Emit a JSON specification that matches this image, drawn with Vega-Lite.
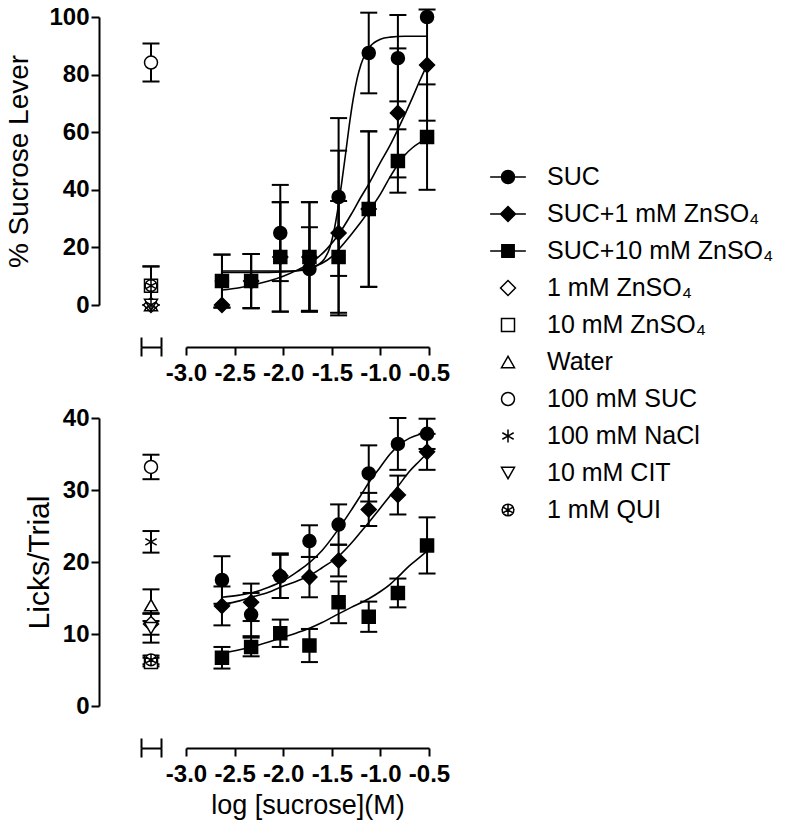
{
  "$schema": "https://vega.github.io/schema/vega-lite/v6.json",
  "background": "white",
  "padding": 5,
  "bounds": "flush",
  "columns": 2,
  "spacing": {"row": 113, "column": 25},
  "resolve": {"scale": {"shape": "independent", "fill": "independent"}},
  "config": {
    "view": {"stroke": null},
    "font": "Liberation Sans",
    "axis": {
      "domainColor": "black", "tickColor": "black", "labelColor": "black", "titleColor": "black",
      "domainWidth": 2, "tickWidth": 2, "tickSize": 8, "grid": false,
      "labelFont": "Liberation Sans", "labelFontWeight": "bold", "labelFontSize": 24,
      "titleFont": "Liberation Sans", "titleFontWeight": "normal"
    },
    "legend": {
      "labelFont": "Liberation Sans", "labelFontSize": 25, "labelColor": "black", "labelLimit": 400,
      "rowPadding": 11, "symbolSize": 169, "symbolStrokeWidth": 1.5, "symbolStrokeColor": "black",
      "symbolOpacity": 1, "padding": 0, "labelOffset": 26.5
    }
  },
  "datasets": {
    "top_pts": [
      {"series": "SUC", "logc": -2.63, "mean": 8.3, "sem": 9.2},
      {"series": "SUC", "logc": -2.33, "mean": 8.3, "sem": 9.4},
      {"series": "SUC", "logc": -2.03, "mean": 25, "sem": 16.7},
      {"series": "SUC", "logc": -1.73, "mean": 12.5, "sem": 14.5},
      {"series": "SUC", "logc": -1.43, "mean": 37.5, "sem": 27.4},
      {"series": "SUC", "logc": -1.12, "mean": 87.5, "sem": 14},
      {"series": "SUC", "logc": -0.82, "mean": 85.7, "sem": 15},
      {"series": "SUC", "logc": -0.52, "mean": 100, "sem": 0},
      {"series": "SUC+1 mM ZnSO₄", "logc": -2.63, "mean": 0, "sem": 0},
      {"series": "SUC+1 mM ZnSO₄", "logc": -2.33, "mean": 8.3, "sem": 9.4},
      {"series": "SUC+1 mM ZnSO₄", "logc": -2.03, "mean": 16.7, "sem": 19},
      {"series": "SUC+1 mM ZnSO₄", "logc": -1.73, "mean": 16.7, "sem": 19},
      {"series": "SUC+1 mM ZnSO₄", "logc": -1.43, "mean": 25, "sem": 28.6},
      {"series": "SUC+1 mM ZnSO₄", "logc": -1.12, "mean": 33.3, "sem": 27},
      {"series": "SUC+1 mM ZnSO₄", "logc": -0.82, "mean": 66.7, "sem": 22.4},
      {"series": "SUC+1 mM ZnSO₄", "logc": -0.52, "mean": 83.3, "sem": 19.3},
      {"series": "SUC+10 mM ZnSO₄", "logc": -2.63, "mean": 8.3, "sem": 9.2},
      {"series": "SUC+10 mM ZnSO₄", "logc": -2.33, "mean": 8.3, "sem": 9.4},
      {"series": "SUC+10 mM ZnSO₄", "logc": -2.03, "mean": 16.7, "sem": 19},
      {"series": "SUC+10 mM ZnSO₄", "logc": -1.73, "mean": 16.7, "sem": 19},
      {"series": "SUC+10 mM ZnSO₄", "logc": -1.43, "mean": 16.7, "sem": 19.4},
      {"series": "SUC+10 mM ZnSO₄", "logc": -1.12, "mean": 33.3, "sem": 27},
      {"series": "SUC+10 mM ZnSO₄", "logc": -0.82, "mean": 50, "sem": 11},
      {"series": "SUC+10 mM ZnSO₄", "logc": -0.52, "mean": 58.3, "sem": 18.3}
    ],
    "top_ctrl": [
      {"series": "100 mM SUC", "group": "control", "mean": 84.2, "sem": 6.6},
      {"series": "10 mM ZnSO₄", "group": "control", "mean": 6.7, "sem": 6.7},
      {"series": "1 mM QUI", "group": "control", "mean": 6.7, "sem": 6.7},
      {"series": "Water", "group": "control", "mean": 0, "sem": 0},
      {"series": "1 mM ZnSO₄", "group": "control", "mean": 0, "sem": 0},
      {"series": "10 mM CIT", "group": "control", "mean": 0, "sem": 0},
      {"series": "100 mM NaCl", "group": "control", "mean": 0, "sem": 0}
    ],
    "top_fit": [
      {"series": "SUC", "logc": -2.63, "y": 11.8},
      {"series": "SUC", "logc": -2.3, "y": 11.8},
      {"series": "SUC", "logc": -2.0, "y": 11.8},
      {"series": "SUC", "logc": -1.85, "y": 11.9},
      {"series": "SUC", "logc": -1.75, "y": 12.4},
      {"series": "SUC", "logc": -1.65, "y": 13.8},
      {"series": "SUC", "logc": -1.58, "y": 15.8},
      {"series": "SUC", "logc": -1.52, "y": 20},
      {"series": "SUC", "logc": -1.47, "y": 27},
      {"series": "SUC", "logc": -1.43, "y": 35},
      {"series": "SUC", "logc": -1.4, "y": 42},
      {"series": "SUC", "logc": -1.36, "y": 52},
      {"series": "SUC", "logc": -1.32, "y": 62.5},
      {"series": "SUC", "logc": -1.28, "y": 71.5},
      {"series": "SUC", "logc": -1.24, "y": 78.5},
      {"series": "SUC", "logc": -1.2, "y": 83.5},
      {"series": "SUC", "logc": -1.15, "y": 87.5},
      {"series": "SUC", "logc": -1.1, "y": 90},
      {"series": "SUC", "logc": -1.0, "y": 92.3},
      {"series": "SUC", "logc": -0.9, "y": 93},
      {"series": "SUC", "logc": -0.75, "y": 93.3},
      {"series": "SUC", "logc": -0.52, "y": 93.3},
      {"series": "SUC+1 mM ZnSO₄", "logc": -2.63, "y": 5.2},
      {"series": "SUC+1 mM ZnSO₄", "logc": -2.45, "y": 6},
      {"series": "SUC+1 mM ZnSO₄", "logc": -2.3, "y": 7},
      {"series": "SUC+1 mM ZnSO₄", "logc": -2.15, "y": 8.3},
      {"series": "SUC+1 mM ZnSO₄", "logc": -2.0, "y": 10},
      {"series": "SUC+1 mM ZnSO₄", "logc": -1.85, "y": 12.2},
      {"series": "SUC+1 mM ZnSO₄", "logc": -1.7, "y": 15},
      {"series": "SUC+1 mM ZnSO₄", "logc": -1.55, "y": 19.5},
      {"series": "SUC+1 mM ZnSO₄", "logc": -1.43, "y": 24.5},
      {"series": "SUC+1 mM ZnSO₄", "logc": -1.3, "y": 31.5},
      {"series": "SUC+1 mM ZnSO₄", "logc": -1.2, "y": 37.5},
      {"series": "SUC+1 mM ZnSO₄", "logc": -1.12, "y": 42},
      {"series": "SUC+1 mM ZnSO₄", "logc": -1.0, "y": 49.5},
      {"series": "SUC+1 mM ZnSO₄", "logc": -0.9, "y": 55.5},
      {"series": "SUC+1 mM ZnSO₄", "logc": -0.82, "y": 61},
      {"series": "SUC+1 mM ZnSO₄", "logc": -0.75, "y": 66},
      {"series": "SUC+1 mM ZnSO₄", "logc": -0.67, "y": 72},
      {"series": "SUC+1 mM ZnSO₄", "logc": -0.6, "y": 77.5},
      {"series": "SUC+1 mM ZnSO₄", "logc": -0.52, "y": 83.4},
      {"series": "SUC+10 mM ZnSO₄", "logc": -2.63, "y": 11.3},
      {"series": "SUC+10 mM ZnSO₄", "logc": -2.3, "y": 11.3},
      {"series": "SUC+10 mM ZnSO₄", "logc": -2.0, "y": 11.5},
      {"series": "SUC+10 mM ZnSO₄", "logc": -1.85, "y": 12},
      {"series": "SUC+10 mM ZnSO₄", "logc": -1.73, "y": 12.8},
      {"series": "SUC+10 mM ZnSO₄", "logc": -1.6, "y": 14.5},
      {"series": "SUC+10 mM ZnSO₄", "logc": -1.5, "y": 16.8},
      {"series": "SUC+10 mM ZnSO₄", "logc": -1.43, "y": 19.3},
      {"series": "SUC+10 mM ZnSO₄", "logc": -1.3, "y": 24.5},
      {"series": "SUC+10 mM ZnSO₄", "logc": -1.2, "y": 28.8},
      {"series": "SUC+10 mM ZnSO₄", "logc": -1.12, "y": 32.5},
      {"series": "SUC+10 mM ZnSO₄", "logc": -1.0, "y": 38.5},
      {"series": "SUC+10 mM ZnSO₄", "logc": -0.9, "y": 44.5},
      {"series": "SUC+10 mM ZnSO₄", "logc": -0.82, "y": 48.8},
      {"series": "SUC+10 mM ZnSO₄", "logc": -0.75, "y": 52},
      {"series": "SUC+10 mM ZnSO₄", "logc": -0.67, "y": 54.6},
      {"series": "SUC+10 mM ZnSO₄", "logc": -0.6, "y": 56.3},
      {"series": "SUC+10 mM ZnSO₄", "logc": -0.52, "y": 57.7}
    ],
    "bot_pts": [
      {"series": "SUC", "logc": -2.63, "mean": 17.5, "sem": 3.3},
      {"series": "SUC", "logc": -2.33, "mean": 12.7, "sem": 3.0},
      {"series": "SUC", "logc": -2.03, "mean": 18.0, "sem": 3.0},
      {"series": "SUC", "logc": -1.73, "mean": 22.9, "sem": 2.2},
      {"series": "SUC", "logc": -1.43, "mean": 25.2, "sem": 2.8},
      {"series": "SUC", "logc": -1.12, "mean": 32.3, "sem": 3.9},
      {"series": "SUC", "logc": -0.82, "mean": 36.4, "sem": 3.6},
      {"series": "SUC", "logc": -0.52, "mean": 37.8, "sem": 2.1},
      {"series": "SUC+1 mM ZnSO₄", "logc": -2.63, "mean": 13.9, "sem": 2.7},
      {"series": "SUC+1 mM ZnSO₄", "logc": -2.33, "mean": 14.4, "sem": 2.6},
      {"series": "SUC+1 mM ZnSO₄", "logc": -2.03, "mean": 18.1, "sem": 3.1},
      {"series": "SUC+1 mM ZnSO₄", "logc": -1.73, "mean": 17.9, "sem": 2.8},
      {"series": "SUC+1 mM ZnSO₄", "logc": -1.43, "mean": 20.2, "sem": 2.2},
      {"series": "SUC+1 mM ZnSO₄", "logc": -1.12, "mean": 27.3, "sem": 2.3},
      {"series": "SUC+1 mM ZnSO₄", "logc": -0.82, "mean": 29.3, "sem": 2.7},
      {"series": "SUC+1 mM ZnSO₄", "logc": -0.52, "mean": 35.3, "sem": 2.5},
      {"series": "SUC+10 mM ZnSO₄", "logc": -2.63, "mean": 6.7, "sem": 1.5},
      {"series": "SUC+10 mM ZnSO₄", "logc": -2.33, "mean": 8.2, "sem": 1.3},
      {"series": "SUC+10 mM ZnSO₄", "logc": -2.03, "mean": 10.1, "sem": 1.9},
      {"series": "SUC+10 mM ZnSO₄", "logc": -1.73, "mean": 8.4, "sem": 2.3},
      {"series": "SUC+10 mM ZnSO₄", "logc": -1.43, "mean": 14.4, "sem": 2.9},
      {"series": "SUC+10 mM ZnSO₄", "logc": -1.12, "mean": 12.4, "sem": 2.1},
      {"series": "SUC+10 mM ZnSO₄", "logc": -0.82, "mean": 15.7, "sem": 2.0},
      {"series": "SUC+10 mM ZnSO₄", "logc": -0.52, "mean": 22.3, "sem": 3.9}
    ],
    "bot_ctrl": [
      {"series": "100 mM SUC", "group": "control", "mean": 33.2, "sem": 1.7},
      {"series": "100 mM NaCl", "group": "control", "mean": 22.8, "sem": 1.5},
      {"series": "Water", "group": "control", "mean": 14.0, "sem": 2.2},
      {"series": "1 mM ZnSO₄", "group": "control", "mean": 11.4, "sem": 1.5},
      {"series": "10 mM CIT", "group": "control", "mean": 10.8, "sem": 2.0},
      {"series": "10 mM ZnSO₄", "group": "control", "mean": 6.1, "sem": 0.6},
      {"series": "1 mM QUI", "group": "control", "mean": 6.4, "sem": 0.6}
    ],
    "bot_fit": [
      {"series": "SUC", "logc": -2.63, "y": 15.1},
      {"series": "SUC", "logc": -2.45, "y": 15.4},
      {"series": "SUC", "logc": -2.3, "y": 15.8},
      {"series": "SUC", "logc": -2.15, "y": 16.5},
      {"series": "SUC", "logc": -2.0, "y": 17.4},
      {"series": "SUC", "logc": -1.85, "y": 18.7},
      {"series": "SUC", "logc": -1.73, "y": 19.9},
      {"series": "SUC", "logc": -1.6, "y": 21.6},
      {"series": "SUC", "logc": -1.43, "y": 24.6},
      {"series": "SUC", "logc": -1.3, "y": 27.2},
      {"series": "SUC", "logc": -1.2, "y": 29.3},
      {"series": "SUC", "logc": -1.12, "y": 31},
      {"series": "SUC", "logc": -1.0, "y": 33.2},
      {"series": "SUC", "logc": -0.9, "y": 35},
      {"series": "SUC", "logc": -0.82, "y": 36.1},
      {"series": "SUC", "logc": -0.7, "y": 37.2},
      {"series": "SUC", "logc": -0.6, "y": 37.7},
      {"series": "SUC", "logc": -0.52, "y": 37.9},
      {"series": "SUC+1 mM ZnSO₄", "logc": -2.63, "y": 14.1},
      {"series": "SUC+1 mM ZnSO₄", "logc": -2.45, "y": 14.6},
      {"series": "SUC+1 mM ZnSO₄", "logc": -2.33, "y": 15.1},
      {"series": "SUC+1 mM ZnSO₄", "logc": -2.15, "y": 15.8},
      {"series": "SUC+1 mM ZnSO₄", "logc": -2.03, "y": 16.5},
      {"series": "SUC+1 mM ZnSO₄", "logc": -1.85, "y": 17.4},
      {"series": "SUC+1 mM ZnSO₄", "logc": -1.73, "y": 18.1},
      {"series": "SUC+1 mM ZnSO₄", "logc": -1.6, "y": 19.2},
      {"series": "SUC+1 mM ZnSO₄", "logc": -1.43, "y": 20.8},
      {"series": "SUC+1 mM ZnSO₄", "logc": -1.3, "y": 22.6},
      {"series": "SUC+1 mM ZnSO₄", "logc": -1.2, "y": 24.2},
      {"series": "SUC+1 mM ZnSO₄", "logc": -1.12, "y": 25.5},
      {"series": "SUC+1 mM ZnSO₄", "logc": -1.0, "y": 27.5},
      {"series": "SUC+1 mM ZnSO₄", "logc": -0.9, "y": 29.2},
      {"series": "SUC+1 mM ZnSO₄", "logc": -0.82, "y": 30.5},
      {"series": "SUC+1 mM ZnSO₄", "logc": -0.7, "y": 32.6},
      {"series": "SUC+1 mM ZnSO₄", "logc": -0.6, "y": 34},
      {"series": "SUC+1 mM ZnSO₄", "logc": -0.52, "y": 35.1},
      {"series": "SUC+10 mM ZnSO₄", "logc": -2.63, "y": 7.3},
      {"series": "SUC+10 mM ZnSO₄", "logc": -2.45, "y": 7.8},
      {"series": "SUC+10 mM ZnSO₄", "logc": -2.33, "y": 8.2},
      {"series": "SUC+10 mM ZnSO₄", "logc": -2.15, "y": 8.9},
      {"series": "SUC+10 mM ZnSO₄", "logc": -2.03, "y": 9.4},
      {"series": "SUC+10 mM ZnSO₄", "logc": -1.85, "y": 10.2},
      {"series": "SUC+10 mM ZnSO₄", "logc": -1.73, "y": 10.8},
      {"series": "SUC+10 mM ZnSO₄", "logc": -1.6, "y": 11.6},
      {"series": "SUC+10 mM ZnSO₄", "logc": -1.43, "y": 12.8},
      {"series": "SUC+10 mM ZnSO₄", "logc": -1.3, "y": 13.7},
      {"series": "SUC+10 mM ZnSO₄", "logc": -1.12, "y": 14.9},
      {"series": "SUC+10 mM ZnSO₄", "logc": -1.0, "y": 15.9},
      {"series": "SUC+10 mM ZnSO₄", "logc": -0.9, "y": 16.9},
      {"series": "SUC+10 mM ZnSO₄", "logc": -0.82, "y": 17.9},
      {"series": "SUC+10 mM ZnSO₄", "logc": -0.7, "y": 19.5},
      {"series": "SUC+10 mM ZnSO₄", "logc": -0.6, "y": 20.6},
      {"series": "SUC+10 mM ZnSO₄", "logc": -0.52, "y": 21.5}
    ]
  },
  "concat": [
    {
      "width": 20, "height": 288,
      "data": {"name": "top_ctrl"},
      "resolve": {"scale": {"x": "independent"}, "axis": {"x": "independent"}},
      "layer": [
        {
          "transform": [{"filter": "datum.sem > 0"}],
          "mark": {"type": "errorbar", "ticks": {"color": "black", "opacity": 1}, "rule": {"color": "black", "opacity": 1}, "size": 17, "thickness": 2, "color": "black", "opacity": 1},
          "encoding": {
            "x": {"field": "group", "type": "nominal", "scale": {"type": "band", "paddingInner": 0, "paddingOuter": 0}, "axis": {"orient": "bottom", "labels": false, "title": null, "tickBand": "extent", "offset": 42, "tickSize": 9}},
            "y": {"field": "mean", "type": "quantitative", "scale": {"domain": [0, 100], "nice": false, "zero": false}, "axis": {"values": [0, 20, 40, 60, 80, 100], "offset": 42, "title": "% Sucrose Lever", "titleFontSize": 28, "titlePadding": 15, "labelPadding": 2}},
            "yError": {"field": "sem"}
          }
        },
        {
          "mark": {"type": "point", "filled": true, "opacity": 1, "stroke": "black", "strokeWidth": 1.5, "size": 169},
          "encoding": {
            "x": {"field": "group", "type": "nominal", "scale": {"type": "band", "paddingInner": 0, "paddingOuter": 0}, "axis": {"orient": "bottom", "labels": false, "title": null, "tickBand": "extent", "offset": 42, "tickSize": -10, "domain": false}},
            "y": {"field": "mean", "type": "quantitative", "scale": {"domain": [0, 100], "nice": false, "zero": false}, "axis": {"values": [0, 20, 40, 60, 80, 100], "offset": 42, "title": "% Sucrose Lever", "titleFontSize": 28, "titlePadding": 15, "labelPadding": 2}},
            "shape": {"field": "series", "type": "nominal", "legend": null, "scale": {"domain": ["SUC", "SUC+1 mM ZnSO₄", "SUC+10 mM ZnSO₄", "1 mM ZnSO₄", "10 mM ZnSO₄", "Water", "100 mM SUC", "100 mM NaCl", "10 mM CIT", "1 mM QUI"], "range": ["circle", "M0,-1.15L1.15,0L0,1.15L-1.15,0Z", "square", "M0,-1.15L1.15,0L0,1.15L-1.15,0Z", "square", "triangle-up", "circle", "M0,-1V1M-0.87,-0.5L0.87,0.5M-0.87,0.5L0.87,-0.5", "triangle-down", "M-0.9,0A0.9,0.9 0 1,0 0.9,0A0.9,0.9 0 1,0 -0.9,0ZM0,-0.9V0.9M-0.78,-0.45L0.78,0.45M-0.78,0.45L0.78,-0.45"]}},
            "fill": {"field": "series", "type": "nominal", "legend": null, "scale": {"domain": ["SUC", "SUC+1 mM ZnSO₄", "SUC+10 mM ZnSO₄", "1 mM ZnSO₄", "10 mM ZnSO₄", "Water", "100 mM SUC", "100 mM NaCl", "10 mM CIT", "1 mM QUI"], "range": ["black", "black", "black", "white", "white", "white", "white", "white", "white", "white"]}}
          }
        }
      ]
    },
    {
      "width": 243, "height": 288,
      "resolve": {"scale": {"shape": "independent", "fill": "independent"}},
      "layer": [
        {
          "data": {"name": "top_pts"},
          "mark": {"type": "point", "filled": true, "opacity": 0, "stroke": "black", "size": 169},
          "encoding": {
            "x": {"field": "logc", "type": "quantitative", "scale": {"domain": [-3, -0.5], "nice": false, "zero": false}, "axis": {"values": [-3, -2.5, -2, -1.5, -1, -0.5], "offset": 42, "title": null, "labelPadding": 6, "labelFlush": false, "labelOverlap": false, "labelExpr": "replace(format(datum.value, '.1f'), '\u2212', '-')"}},
            "y": {"field": "mean", "type": "quantitative", "scale": {"domain": [0, 100], "nice": false, "zero": false}, "axis": null},
            "shape": {"field": "series", "type": "nominal", "legend": {"title": null, "orient": "none", "legendX": 309.5, "legendY": 147.5, "symbolStrokeColor": "black", "symbolStrokeWidth": 1.5, "encode": {"symbols": {"update": {"stroke": {"value": "black"}, "strokeWidth": {"value": 1.5}, "opacity": {"value": 1}}}}}, "scale": {"domain": ["SUC", "SUC+1 mM ZnSO₄", "SUC+10 mM ZnSO₄", "1 mM ZnSO₄", "10 mM ZnSO₄", "Water", "100 mM SUC", "100 mM NaCl", "10 mM CIT", "1 mM QUI"], "range": ["M-2.75,0H2.75M-1,0A1,1 0 1,0 1,0A1,1 0 1,0 -1,0Z", "M-2.75,0H2.75M0,-1.15L1.15,0L0,1.15L-1.15,0Z", "M-2.75,0H2.75M-0.95,-0.95H0.95V0.95H-0.95Z", "M0,-1.15L1.15,0L0,1.15L-1.15,0Z", "square", "triangle-up", "circle", "M0,-1V1M-0.87,-0.5L0.87,0.5M-0.87,0.5L0.87,-0.5", "triangle-down", "M-0.9,0A0.9,0.9 0 1,0 0.9,0A0.9,0.9 0 1,0 -0.9,0ZM0,-0.9V0.9M-0.78,-0.45L0.78,0.45M-0.78,0.45L0.78,-0.45"]}},
            "fill": {"field": "series", "type": "nominal", "legend": {"title": null, "orient": "none", "legendX": 309.5, "legendY": 147.5, "symbolStrokeColor": "black", "symbolStrokeWidth": 1.5, "encode": {"symbols": {"update": {"stroke": {"value": "black"}, "strokeWidth": {"value": 1.5}, "opacity": {"value": 1}}}}}, "scale": {"domain": ["SUC", "SUC+1 mM ZnSO₄", "SUC+10 mM ZnSO₄", "1 mM ZnSO₄", "10 mM ZnSO₄", "Water", "100 mM SUC", "100 mM NaCl", "10 mM CIT", "1 mM QUI"], "range": ["black", "black", "black", "white", "white", "white", "white", "white", "white", "white"]}}
          }
        },
        {
          "data": {"name": "top_fit"},
          "mark": {"type": "line", "interpolate": "monotone", "color": "black", "strokeWidth": 1.6},
          "encoding": {
            "x": {"field": "logc", "type": "quantitative"},
            "y": {"field": "y", "type": "quantitative"},
            "detail": {"field": "series"}
          }
        },
        {
          "data": {"name": "top_pts"},
          "transform": [{"filter": "datum.sem > 0"}],
          "mark": {"type": "errorbar", "ticks": {"color": "black", "opacity": 1}, "rule": {"color": "black", "opacity": 1}, "size": 17, "thickness": 2, "color": "black", "opacity": 1},
          "encoding": {
            "x": {"field": "logc", "type": "quantitative"},
            "y": {"field": "mean", "type": "quantitative"},
            "yError": {"field": "sem"}
          }
        },
        {
          "data": {"name": "top_pts"},
          "mark": {"type": "point", "filled": true, "opacity": 1, "stroke": "black", "strokeWidth": 1.5, "size": 169},
          "encoding": {
            "x": {"field": "logc", "type": "quantitative"},
            "y": {"field": "mean", "type": "quantitative"},
            "shape": {"field": "series", "type": "nominal", "legend": null, "scale": {"domain": ["SUC", "SUC+1 mM ZnSO₄", "SUC+10 mM ZnSO₄", "1 mM ZnSO₄", "10 mM ZnSO₄", "Water", "100 mM SUC", "100 mM NaCl", "10 mM CIT", "1 mM QUI"], "range": ["circle", "M0,-1.15L1.15,0L0,1.15L-1.15,0Z", "square", "M0,-1.15L1.15,0L0,1.15L-1.15,0Z", "square", "triangle-up", "circle", "M0,-1V1M-0.87,-0.5L0.87,0.5M-0.87,0.5L0.87,-0.5", "triangle-down", "M-0.9,0A0.9,0.9 0 1,0 0.9,0A0.9,0.9 0 1,0 -0.9,0ZM0,-0.9V0.9M-0.78,-0.45L0.78,0.45M-0.78,0.45L0.78,-0.45"]}},
            "fill": {"field": "series", "type": "nominal", "legend": null, "scale": {"domain": ["SUC", "SUC+1 mM ZnSO₄", "SUC+10 mM ZnSO₄", "1 mM ZnSO₄", "10 mM ZnSO₄", "Water", "100 mM SUC", "100 mM NaCl", "10 mM CIT", "1 mM QUI"], "range": ["black", "black", "black", "white", "white", "white", "white", "white", "white", "white"]}}
          }
        }
      ]
    },
    {
      "width": 20, "height": 288,
      "data": {"name": "bot_ctrl"},
      "resolve": {"scale": {"x": "independent"}, "axis": {"x": "independent"}},
      "layer": [
        {
          "transform": [{"filter": "datum.sem > 0"}],
          "mark": {"type": "errorbar", "ticks": {"color": "black", "opacity": 1}, "rule": {"color": "black", "opacity": 1}, "size": 17, "thickness": 2, "color": "black", "opacity": 1},
          "encoding": {
            "x": {"field": "group", "type": "nominal", "scale": {"type": "band", "paddingInner": 0, "paddingOuter": 0}, "axis": {"orient": "bottom", "labels": false, "title": null, "tickBand": "extent", "offset": 42, "tickSize": 9}},
            "y": {"field": "mean", "type": "quantitative", "scale": {"domain": [0, 40], "nice": false, "zero": false}, "axis": {"values": [0, 10, 20, 30, 40], "offset": 42, "title": "Licks/Trial", "titleFontSize": 30, "titlePadding": 8, "labelPadding": 2}},
            "yError": {"field": "sem"}
          }
        },
        {
          "mark": {"type": "point", "filled": true, "opacity": 1, "stroke": "black", "strokeWidth": 1.5, "size": 169},
          "encoding": {
            "x": {"field": "group", "type": "nominal", "scale": {"type": "band", "paddingInner": 0, "paddingOuter": 0}, "axis": {"orient": "bottom", "labels": false, "title": null, "tickBand": "extent", "offset": 42, "tickSize": -10, "domain": false}},
            "y": {"field": "mean", "type": "quantitative", "scale": {"domain": [0, 40], "nice": false, "zero": false}, "axis": {"values": [0, 10, 20, 30, 40], "offset": 42, "title": "Licks/Trial", "titleFontSize": 30, "titlePadding": 8, "labelPadding": 2}},
            "shape": {"field": "series", "type": "nominal", "legend": null, "scale": {"domain": ["SUC", "SUC+1 mM ZnSO₄", "SUC+10 mM ZnSO₄", "1 mM ZnSO₄", "10 mM ZnSO₄", "Water", "100 mM SUC", "100 mM NaCl", "10 mM CIT", "1 mM QUI"], "range": ["circle", "M0,-1.15L1.15,0L0,1.15L-1.15,0Z", "square", "M0,-1.15L1.15,0L0,1.15L-1.15,0Z", "square", "triangle-up", "circle", "M0,-1V1M-0.87,-0.5L0.87,0.5M-0.87,0.5L0.87,-0.5", "triangle-down", "M-0.9,0A0.9,0.9 0 1,0 0.9,0A0.9,0.9 0 1,0 -0.9,0ZM0,-0.9V0.9M-0.78,-0.45L0.78,0.45M-0.78,0.45L0.78,-0.45"]}},
            "fill": {"field": "series", "type": "nominal", "legend": null, "scale": {"domain": ["SUC", "SUC+1 mM ZnSO₄", "SUC+10 mM ZnSO₄", "1 mM ZnSO₄", "10 mM ZnSO₄", "Water", "100 mM SUC", "100 mM NaCl", "10 mM CIT", "1 mM QUI"], "range": ["black", "black", "black", "white", "white", "white", "white", "white", "white", "white"]}}
          }
        }
      ]
    },
    {
      "width": 243, "height": 288,
      "layer": [
        {
          "data": {"name": "bot_fit"},
          "mark": {"type": "line", "interpolate": "monotone", "color": "black", "strokeWidth": 1.6},
          "encoding": {
            "x": {"field": "logc", "type": "quantitative", "scale": {"domain": [-3, -0.5], "nice": false, "zero": false}, "axis": {"values": [-3, -2.5, -2, -1.5, -1, -0.5], "offset": 42, "title": "log [sucrose](M)", "titleFontSize": 27, "titlePadding": 6, "labelPadding": 6, "labelFlush": false, "labelOverlap": false, "labelExpr": "replace(format(datum.value, '.1f'), '\u2212', '-')"}},
            "y": {"field": "y", "type": "quantitative", "scale": {"domain": [0, 40], "nice": false, "zero": false}, "axis": null},
            "detail": {"field": "series"}
          }
        },
        {
          "data": {"name": "bot_pts"},
          "mark": {"type": "errorbar", "ticks": {"color": "black", "opacity": 1}, "rule": {"color": "black", "opacity": 1}, "size": 17, "thickness": 2, "color": "black", "opacity": 1},
          "encoding": {
            "x": {"field": "logc", "type": "quantitative"},
            "y": {"field": "mean", "type": "quantitative"},
            "yError": {"field": "sem"}
          }
        },
        {
          "data": {"name": "bot_pts"},
          "mark": {"type": "point", "filled": true, "opacity": 1, "stroke": "black", "strokeWidth": 1.5, "size": 169},
          "encoding": {
            "x": {"field": "logc", "type": "quantitative"},
            "y": {"field": "mean", "type": "quantitative"},
            "shape": {"field": "series", "type": "nominal", "legend": null, "scale": {"domain": ["SUC", "SUC+1 mM ZnSO₄", "SUC+10 mM ZnSO₄", "1 mM ZnSO₄", "10 mM ZnSO₄", "Water", "100 mM SUC", "100 mM NaCl", "10 mM CIT", "1 mM QUI"], "range": ["circle", "M0,-1.15L1.15,0L0,1.15L-1.15,0Z", "square", "M0,-1.15L1.15,0L0,1.15L-1.15,0Z", "square", "triangle-up", "circle", "M0,-1V1M-0.87,-0.5L0.87,0.5M-0.87,0.5L0.87,-0.5", "triangle-down", "M-0.9,0A0.9,0.9 0 1,0 0.9,0A0.9,0.9 0 1,0 -0.9,0ZM0,-0.9V0.9M-0.78,-0.45L0.78,0.45M-0.78,0.45L0.78,-0.45"]}},
            "fill": {"field": "series", "type": "nominal", "legend": null, "scale": {"domain": ["SUC", "SUC+1 mM ZnSO₄", "SUC+10 mM ZnSO₄", "1 mM ZnSO₄", "10 mM ZnSO₄", "Water", "100 mM SUC", "100 mM NaCl", "10 mM CIT", "1 mM QUI"], "range": ["black", "black", "black", "white", "white", "white", "white", "white", "white", "white"]}}
          }
        }
      ]
    }
  ]
}
